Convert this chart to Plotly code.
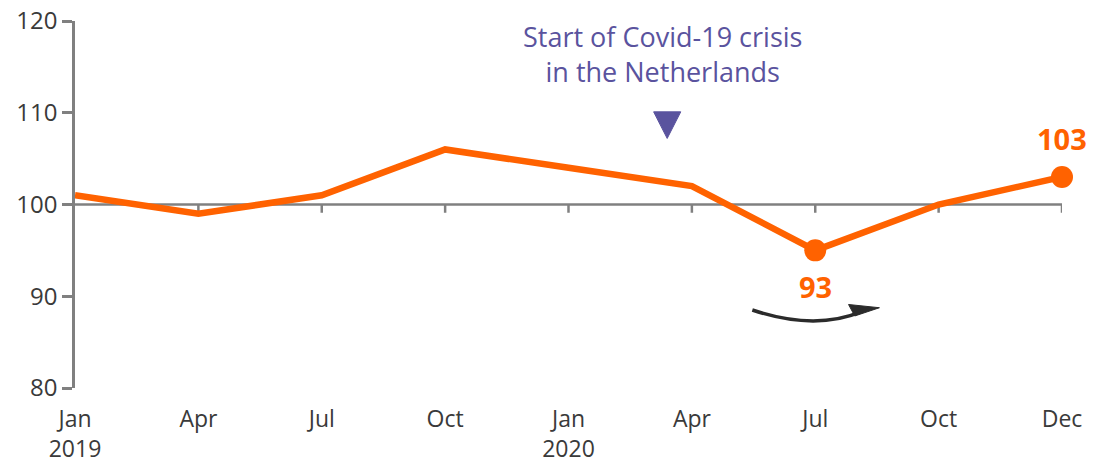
import plotly.graph_objects as go

# ---- data ----
tick_labels = ["Jan<br>2019", "Apr", "Jul", "Oct", "Jan<br>2020", "Apr", "Jul", "Oct", "Dec"]
positions = list(range(len(tick_labels)))
values = [101, 99, 101, 106, 104, 102, 95, 100, 103]
highlight_idx = [6, 8]
highlight_labels = ["93", "103"]
covid_pos = 4.8  # mid-March 2020
covid_text = "Start of Covid-19 crisis<br>in the Netherlands"
baseline = 100
y_ticks = [80, 90, 100, 110, 120]

ORANGE = "#FF6200"
PURPLE = "#5A539E"
GREY = "#808080"
TXT = "#3a3a3a"
FONT = "Open Sans"

fig = go.Figure()

fig.add_trace(go.Scatter(
    x=positions, y=values, mode="lines",
    line=dict(color=ORANGE, width=6.5), cliponaxis=False, hoverinfo="skip"))

fig.add_trace(go.Scatter(
    x=[positions[i] for i in highlight_idx], y=[values[i] for i in highlight_idx],
    mode="markers", marker=dict(color=ORANGE, size=22), cliponaxis=False, hoverinfo="skip"))

shapes = []
# baseline axis at 100
shapes.append(dict(type="line", xref="x", yref="y", x0=positions[0], x1=positions[-1],
                   y0=baseline, y1=baseline, line=dict(color=GREY, width=2.5), layer="below"))
# ticks on baseline
for p in positions[1:]:
    shapes.append(dict(type="line", xref="x", yref="y", x0=p, x1=p,
                       y0=baseline, y1=baseline - 0.9, line=dict(color=GREY, width=2.5), layer="below"))
# curved arrow
shapes.append(dict(type="path", xref="x", yref="y",
                   path="M 5.49,88.5 Q 6.0,86.2 6.38,88.35",
                   line=dict(color="#2b2b2b", width=3.5)))
shapes.append(dict(type="path", xref="x", yref="y",
                   path="M 6.27,89.1 L 6.52,88.75 L 6.32,87.85 Z",
                   fillcolor="#2b2b2b", line=dict(color="#2b2b2b", width=1)))
# covid triangle
shapes.append(dict(type="path", xref="x", yref="y",
                   path=f"M {covid_pos-0.11},110.1 L {covid_pos+0.11},110.1 L {covid_pos},107.2 Z",
                   fillcolor=PURPLE, line=dict(color=PURPLE, width=1)))

annotations = [
    dict(x=covid_pos - 0.04, y=120, xref="x", yref="y", text=covid_text, showarrow=False,
         yshift=5, font=dict(family=FONT, size=27, color=PURPLE), align="center", yanchor="top"),
    dict(x=positions[highlight_idx[0]], y=values[highlight_idx[0]] - 1.6, xref="x", yref="y",
         text=highlight_labels[0], showarrow=False, yanchor="top",
         font=dict(family=FONT, size=29, color=ORANGE, weight="bold")),
    dict(x=positions[highlight_idx[1]], y=values[highlight_idx[1]] + 1.9, xref="x", yref="y",
         text=highlight_labels[1], showarrow=False, yanchor="bottom",
         font=dict(family=FONT, size=29, color=ORANGE, weight="bold")),
]

fig.update_layout(
    width=1107, height=464,
    margin=dict(l=75, r=45, t=21, b=76),
    paper_bgcolor="white", plot_bgcolor="white",
    showlegend=False,
    shapes=shapes, annotations=annotations,
    font=dict(family=FONT, size=24, color=TXT),
    xaxis=dict(range=[positions[0], positions[-1]], tickmode="array", tickvals=positions,
               ticktext=tick_labels, showgrid=False, zeroline=False, showline=False,
               ticks="outside", ticklen=10, tickcolor="rgba(0,0,0,0)", automargin=False,
               ticklabeloverflow="allow",
               tickfont=dict(family=FONT, size=23, color=TXT)),
    yaxis=dict(range=[80, 120], tickvals=y_ticks, showgrid=False, zeroline=False,
               showline=True, linecolor=GREY, linewidth=2.5, automargin=False,
               ticks="outside", ticklen=10, tickwidth=2.5, tickcolor=GREY,
               ticklabeloverflow="allow",
               tickfont=dict(family=FONT, size=24, color=TXT)),
)

fig.write_html("out.html", config={"displayModeBar": False},
               post_script="document.body.style.margin='0';")
